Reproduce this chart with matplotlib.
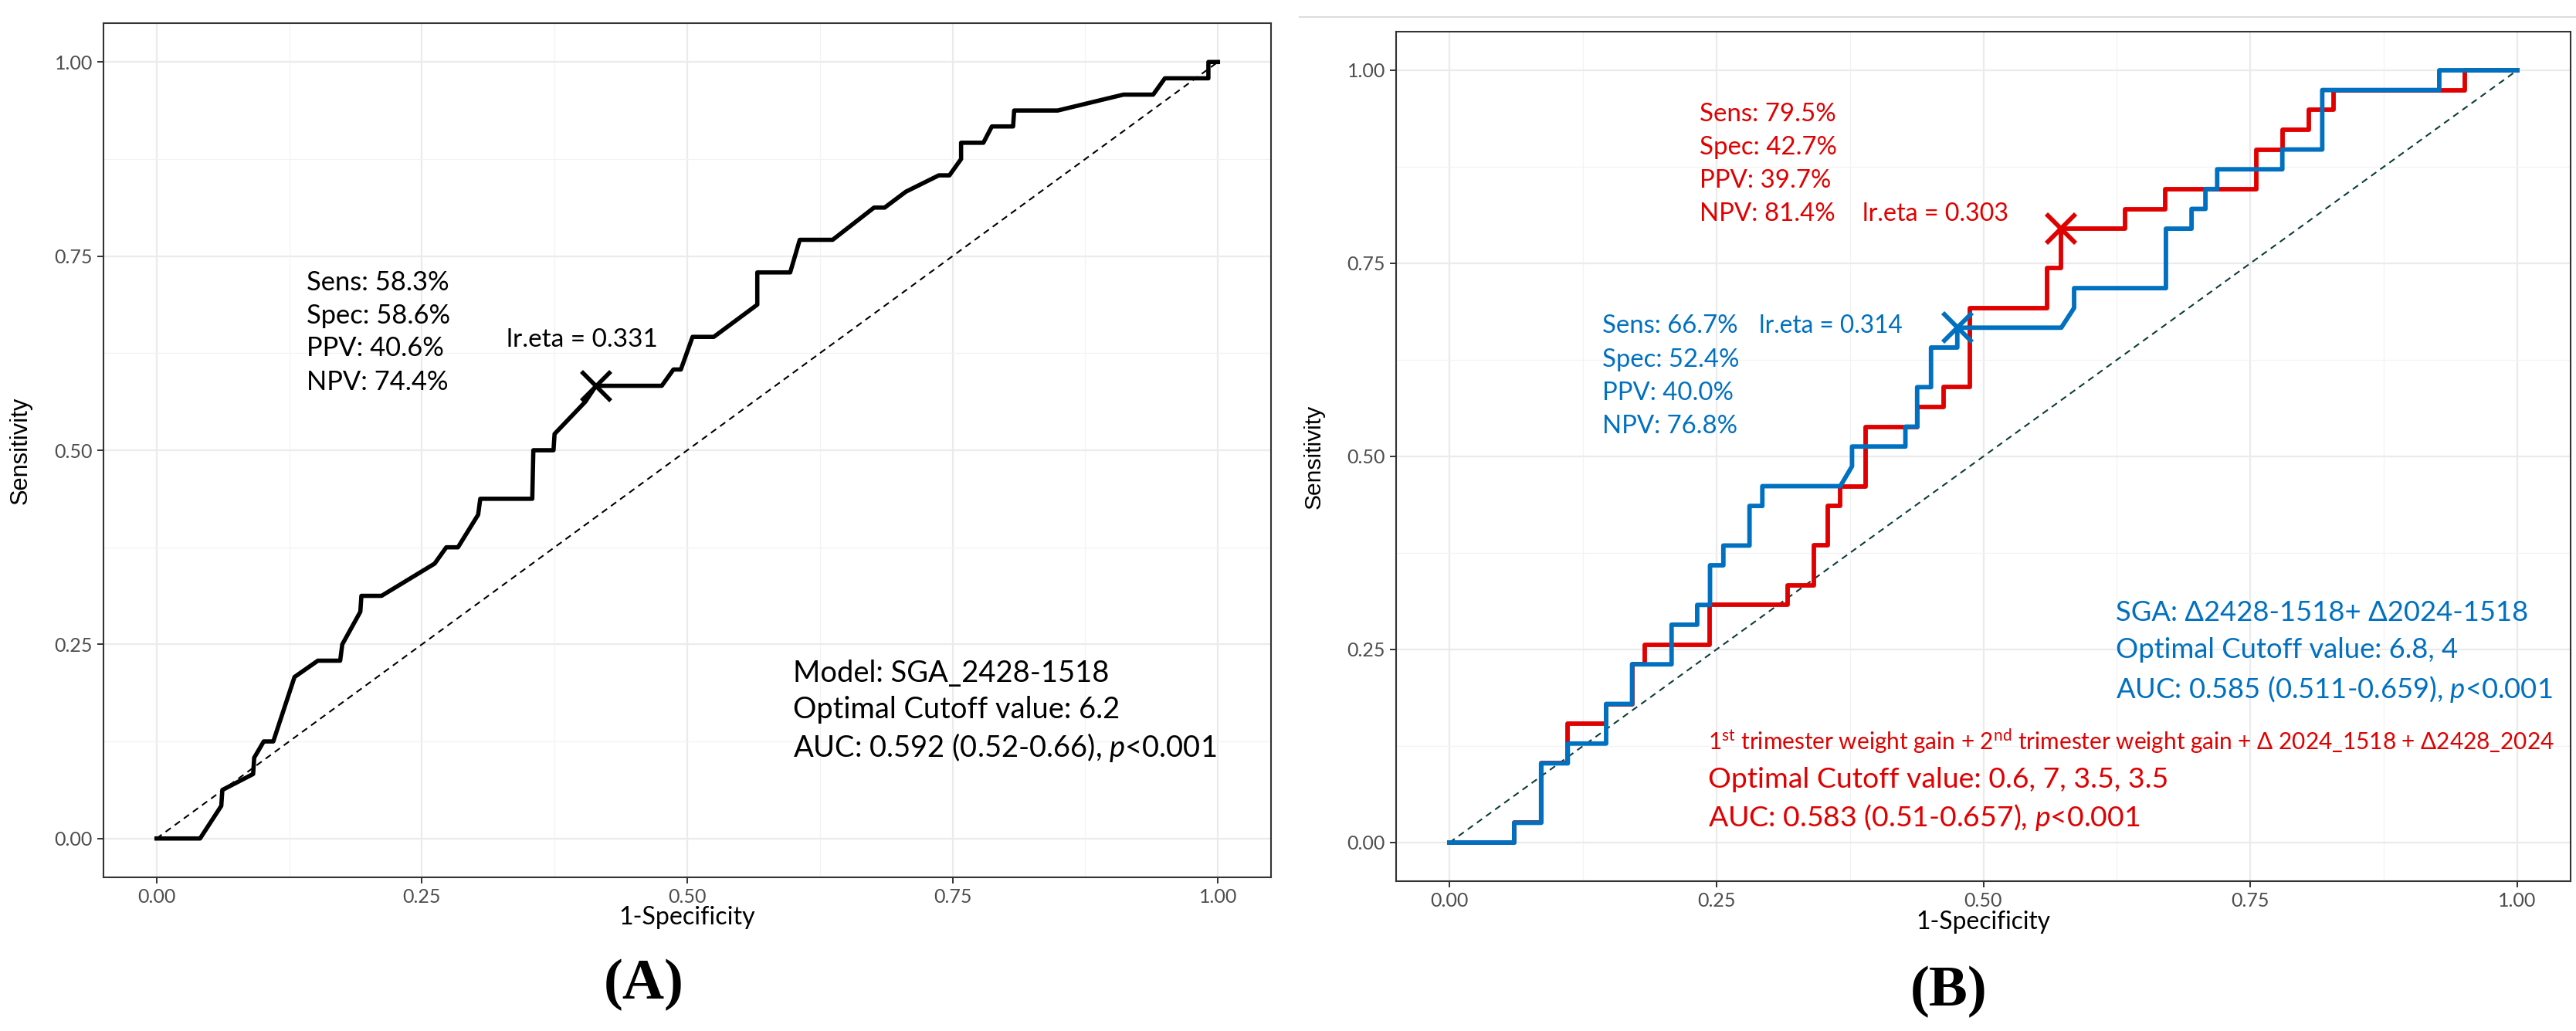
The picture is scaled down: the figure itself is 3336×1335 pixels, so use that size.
import matplotlib
matplotlib.use("Agg")
import matplotlib.pyplot as plt
from matplotlib.lines import Line2D

plt.rcParams['font.family'] = ['Lato', 'DejaVu Sans']
plt.rcParams['mathtext.fontset'] = 'custom'
plt.rcParams['mathtext.rm'] = 'Lato'
plt.rcParams['mathtext.it'] = 'Lato:italic'
plt.rcParams['mathtext.bf'] = 'Lato:bold'

# ---------------- data ----------------
tick_vals = [0.0, 0.25, 0.5, 0.75, 1.0]
tick_labels = ["0.00", "0.25", "0.50", "0.75", "1.00"]
minor_vals = [0.125, 0.375, 0.625, 0.875]

# Panel A ROC (1-specificity, sensitivity)
fpr_a = [0, 0.041, 0.061, 0.062, 0.091, 0.092, 0.101, 0.110, 0.130, 0.152,
         0.173, 0.175, 0.192, 0.193, 0.212, 0.262, 0.273, 0.284, 0.303, 0.305,
         0.354, 0.355, 0.374, 0.375, 0.404, 0.414, 0.476, 0.487, 0.494, 0.505,
         0.525, 0.566, 0.566, 0.597, 0.606, 0.637, 0.676, 0.686, 0.706, 0.737,
         0.747, 0.758, 0.758, 0.779, 0.787, 0.807, 0.808, 0.849, 0.911, 0.939,
         0.950, 0.991, 0.991, 1.0]
tpr_a = [0, 0, 0.042, 0.0625, 0.083, 0.104, 0.125, 0.125, 0.208, 0.229,
         0.229, 0.25, 0.292, 0.3125, 0.3125, 0.354, 0.375, 0.375, 0.417, 0.4375,
         0.4375, 0.5, 0.5, 0.521, 0.5625, 0.583, 0.583, 0.604, 0.604, 0.646,
         0.646, 0.6875, 0.729, 0.729, 0.771, 0.771, 0.8125, 0.8125, 0.833, 0.854,
         0.854, 0.875, 0.896, 0.896, 0.917, 0.917, 0.9375, 0.9375, 0.958, 0.958,
         0.979, 0.979, 1.0, 1.0]
cut_a = (0.414, 0.583)

# Panel B red model
fpr_red = [0, 0.0606, 0.0606, 0.0858, 0.0858, 0.1108, 0.1108, 0.1467, 0.1467, 0.171,
           0.171, 0.183, 0.183, 0.2438, 0.2438, 0.317, 0.317, 0.341, 0.341, 0.354,
           0.354, 0.366, 0.366, 0.390, 0.390, 0.438, 0.438, 0.463, 0.463, 0.487,
           0.487, 0.560, 0.560, 0.573, 0.573, 0.633, 0.633, 0.670, 0.670, 0.756,
           0.756, 0.780, 0.780, 0.805, 0.805, 0.828, 0.828, 0.951, 0.951, 1.0]
tpr_red = [0, 0, 0.0256, 0.0256, 0.1026, 0.1026, 0.1538, 0.1538, 0.1795, 0.1795,
           0.2308, 0.2308, 0.2564, 0.2564, 0.3077, 0.3077, 0.3333, 0.3333, 0.3846, 0.3846,
           0.4359, 0.4359, 0.4615, 0.4615, 0.5385, 0.5385, 0.5641, 0.5641, 0.5897, 0.5897,
           0.6923, 0.6923, 0.7436, 0.7436, 0.7949, 0.7949, 0.8205, 0.8205, 0.8462, 0.8462,
           0.8974, 0.8974, 0.9231, 0.9231, 0.9487, 0.9487, 0.9744, 0.9744, 1.0, 1.0]
cut_red = (0.573, 0.795)

# Panel B blue model
fpr_blue = [0, 0.0606, 0.0606, 0.0858, 0.0858, 0.1108, 0.1108, 0.1467, 0.1467, 0.171,
            0.171, 0.208, 0.208, 0.232, 0.232, 0.244, 0.244, 0.2565, 0.2565, 0.281,
            0.281, 0.293, 0.293, 0.366, 0.377, 0.377, 0.427, 0.427, 0.438, 0.438,
            0.451, 0.451, 0.4756, 0.4756, 0.573, 0.585, 0.585, 0.671, 0.671, 0.695,
            0.695, 0.708, 0.708, 0.719, 0.719, 0.780, 0.780, 0.8174, 0.8174, 0.927,
            0.927, 1.0]
tpr_blue = [0, 0, 0.0256, 0.0256, 0.1026, 0.1026, 0.1282, 0.1282, 0.1795, 0.1795,
            0.2308, 0.2308, 0.2821, 0.2821, 0.3077, 0.3077, 0.3590, 0.3590, 0.3846, 0.3846,
            0.4359, 0.4359, 0.4615, 0.4615, 0.4872, 0.5128, 0.5128, 0.5385, 0.5385, 0.5897,
            0.5897, 0.6410, 0.6410, 0.6667, 0.6667, 0.6923, 0.7179, 0.7179, 0.7949, 0.7949,
            0.8205, 0.8205, 0.8462, 0.8462, 0.8718, 0.8718, 0.8974, 0.8974, 0.9744, 0.9744,
            1.0, 1.0]
cut_blue = (0.4756, 0.6667)

stats_a = ["Sens: 58.3%", "Spec: 58.6%", "PPV: 40.6%", "NPV: 74.4%"]
eta_a = "lr.eta = 0.331"
model_a = ["Model: SGA_2428-1518", "Optimal Cutoff value: 6.2",
           r"AUC: 0.592 (0.52-0.66), $p$<0.001"]

stats_red = ["Sens: 79.5%", "Spec: 42.7%", "PPV: 39.7%", "NPV: 81.4%"]
eta_red = "lr.eta = 0.303"
stats_blue = ["Sens: 66.7%", "Spec: 52.4%", "PPV: 40.0%", "NPV: 76.8%"]
eta_blue = "lr.eta = 0.314"
model_blue = ["SGA: Δ2428-1518+ Δ2024-1518", "Optimal Cutoff value: 6.8, 4",
              r"AUC: 0.585 (0.511-0.659), $p$<0.001"]
model_red = [r"1$^{\mathrm{st}}$ trimester weight gain + 2$^{\mathrm{nd}}$ trimester weight gain + Δ 2024_1518 + Δ2428_2024",
             "Optimal Cutoff value: 0.6, 7, 3.5, 3.5",
             r"AUC: 0.583 (0.51-0.657), $p$<0.001"]

RED = "#E00000"
BLUE = "#0070C0"

# ---------------- figure ----------------
W, H = 3337, 1335
fig = plt.figure(figsize=(W / 100, H / 100), dpi=100)
renderer = fig.canvas.get_renderer()

axA = fig.add_axes([134 / W, 1 - 1136 / H, 1512 / W, 1106 / H])
axB = fig.add_axes([1808 / W, 1 - 1141 / H, 1521 / W, 1100 / H])


def style(ax):
    ax.set_xlim(-0.05, 1.05)
    ax.set_ylim(-0.05, 1.05)
    ax.set_xticks(tick_vals)
    ax.set_xticklabels(tick_labels)
    ax.set_yticks(tick_vals)
    ax.set_yticklabels(tick_labels)
    ax.set_xticks(minor_vals, minor=True)
    ax.set_yticks(minor_vals, minor=True)
    ax.grid(which='major', color='#EBEBEB', lw=1.6)
    ax.grid(which='minor', color='#F3F3F3', lw=0.9)
    ax.tick_params(which='minor', length=0)
    ax.tick_params(which='major', length=6, width=1.4, color='#333333',
                   labelsize=18, labelcolor='#4D4D4D', pad=4)
    ax.set_axisbelow(True)
    for s in ax.spines.values():
        s.set_color('#333333')
        s.set_linewidth(1.5)


def fit_size(s, target_px, family=None, grow=1.0):
    kw = {}
    if family:
        kw['family'] = family
    t = fig.text(0, 0, s, fontsize=20, **kw)
    w = t.get_window_extent(renderer).width
    t.remove()
    return 20 * target_px / w * grow


def block(ax, x, ys, lines, size, color):
    for y, s in zip(ys, lines):
        ax.text(x, y, s, fontsize=size, color=color, ha='left', va='center')


style(axA)
style(axB)

# ---- Panel A ----
axA.plot([0, 1], [0, 1], color='black', lw=1.5, ls=(0, (4, 3)), zorder=2)
axA.plot(fpr_a, tpr_a, color='black', lw=4.0, zorder=3)
axA.plot(*cut_a, marker='x', ms=27, mew=4.0, color='black', zorder=4)

sz = fit_size(stats_a[0], 174, grow=1.06)
block(axA, 0.141, [0.716, 0.673, 0.631, 0.588], stats_a, sz, 'black')
axA.text(0.330, 0.642, eta_a, fontsize=fit_size(eta_a, 190, grow=1.03), color='black', va='center')
sz = fit_size(model_a[2], 527, grow=1.04)
block(axA, 0.600, [0.213, 0.166, 0.117], model_a, sz, 'black')

# ---- Panel B ----
axB.plot([0, 1], [0, 1], color='#0B3D3A', lw=1.5, ls=(0, (4, 3)), zorder=2)
axB.plot(fpr_red, tpr_red, color=RED, lw=4.2, zorder=3)
axB.plot(fpr_blue, tpr_blue, color=BLUE, lw=4.2, zorder=4)
axB.plot(*cut_red, marker='x', ms=28, mew=4.2, color=RED, zorder=5)
axB.plot(*cut_blue, marker='x', ms=28, mew=4.2, color=BLUE, zorder=5)

sz = fit_size(stats_red[0], 173, grow=1.02)
block(axB, 0.234, [0.943, 0.900, 0.857, 0.814], stats_red, sz, RED)
axB.text(0.387, 0.814, eta_red, fontsize=fit_size(eta_red, 189), color=RED, va='center')
sz = fit_size(stats_blue[0], 176, grow=1.0)
block(axB, 0.143, [0.669, 0.625, 0.582, 0.539], stats_blue, sz, BLUE)
axB.text(0.290, 0.669, eta_blue, fontsize=fit_size(eta_blue, 186), color=BLUE, va='center')
sz = fit_size(model_blue[2], 565)
block(axB, 0.624, [0.298, 0.249, 0.199], model_blue, sz, BLUE)
sz1 = fit_size(model_red[0], 1093)
sz2 = fit_size(model_red[2], 544, grow=1.03)
axB.text(0.242, 0.131, model_red[0], fontsize=sz1, color=RED, va='center')
block(axB, 0.242, [0.082, 0.033], model_red[1:], sz2, RED)

# ---- axis labels ----
for ax, yx, xl_px in [(axA, -0.047, 168), (axB, -0.048, 166)]:
    ax.text(0.5, yx, "1-Specificity", transform=ax.transAxes, ha='center', va='center',
            fontsize=fit_size("1-Specificity", xl_px, grow=1.05), color='black')
axA.text(-0.0708, 0.5, "Sensitivity", transform=axA.transAxes, rotation=90,
         ha='center', va='center', color='black',
         fontsize=fit_size("Sensitivity", 139, ['Liberation Sans']), family=['Liberation Sans'])
axB.text(-0.0697, 0.5, "Sensitivity", transform=axB.transAxes, rotation=90,
         ha='center', va='center', color='black',
         fontsize=fit_size("Sensitivity", 135, ['Liberation Sans']), family=['Liberation Sans'])

# ---- panel letters ----
fig.text(834 / W, 1 - 1275 / H, "(A)", ha='center', va='center', fontsize=54,
         fontweight='bold', family=['Liberation Serif', 'DejaVu Serif'])
fig.text(2524 / W, 1 - 1284 / H, "(B)", ha='center', va='center', fontsize=54,
         fontweight='bold', family=['Liberation Serif', 'DejaVu Serif'])

# faint frame line at the top of panel B
fig.add_artist(Line2D([1683 / W, 1.0], [1 - 21.7 / H, 1 - 21.7 / H],
                      transform=fig.transFigure, color='#DDDDDD', lw=1.5))

fig.savefig("out.png", dpi=100)
